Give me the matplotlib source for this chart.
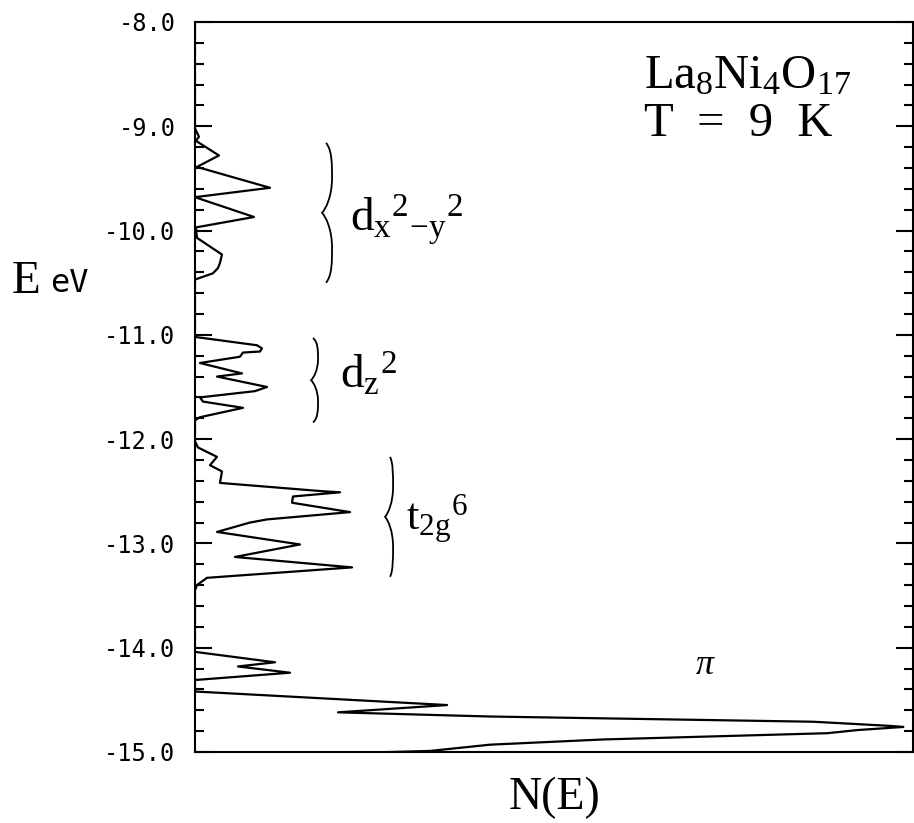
import matplotlib
matplotlib.use("Agg")
import matplotlib.pyplot as plt
from matplotlib.path import Path
from matplotlib.patches import PathPatch
import numpy as np

# density of states (N in arbitrary units, E in eV)
energy = [-8.00, -9.02, -9.10, -9.14, -9.28, -9.39, -9.59, -9.68, -9.87, -9.97,
          -10.07, -10.23, -10.31, -10.36, -10.41, -10.47,
          -11.02, -11.10, -11.13, -11.16, -11.17, -11.21, -11.27, -11.37, -11.40,
          -11.50, -11.54, -11.60, -11.64, -11.70, -11.79, -11.82,
          -12.02, -12.08, -12.17, -12.25, -12.31, -12.42, -12.50, -12.51, -12.55,
          -12.61, -12.70, -12.77, -12.80, -12.89, -13.01, -13.13, -13.23, -13.33,
          -13.40, -13.45,
          -14.04, -14.14, -14.18, -14.24, -14.31, -14.42, -14.55, -14.62, -14.66,
          -14.71, -14.75, -14.76, -14.79, -14.82, -14.88, -14.93, -14.99, -15.05]
dos = [0, 0, 4, 1, 24, 2, 75, 0, 59, 1,
       2, 27, 25, 23, 18, 0,
       0, 62, 67, 65, 48, 45, 5, 47, 22,
       72, 60, 5, 8, 48, 5, 0,
       0, 3, 22, 15, 27, 25, 128, 145, 98,
       97, 155, 72, 55, 22, 105, 40, 157, 12,
       2, 0,
       0, 80, 43, 95, 0, 0, 252, 143, 295,
       618, 695, 708, 662, 632, 408, 295, 235, 0]

yticks = [-8, -9, -10, -11, -12, -13, -14, -15]
ytick_labels = ["-8.0", "-9.0", "-10.0", "-11.0", "-12.0", "-13.0", "-14.0", "-15.0"]

# band groups: (top E, bottom E, label)
groups = [(-9.16, -10.50, r"$\mathrm{d_x{}^2{}_{-y}{}^2}$"),
          (-11.03, -11.84, r"$\mathrm{d_z{}^2}$"),
          (-12.17, -13.32, r"$\mathrm{t_{2g}{}^6}$")]

plt.rcParams["mathtext.fontset"] = "custom"
plt.rcParams["mathtext.rm"] = "Liberation Serif"
plt.rcParams["mathtext.it"] = "Liberation Serif:italic"

fig = plt.figure(figsize=(9.14, 8.23), dpi=100)
ax = fig.add_axes([0.2133, 0.0863, 0.786, 0.887])

ax.plot(dos, energy, color="black", lw=1.6)
ax.set_xlim(0, 718)
ax.set_ylim(-15, -8)

for s in ax.spines.values():
    s.set_linewidth(1.5)

ax.set_xticks([])
ax.set_yticks(yticks)
ax.set_yticklabels(ytick_labels, fontfamily="DejaVu Sans Mono", fontsize=17)
ax.set_yticks(np.arange(-15, -8, 0.2), minor=True)
ax.tick_params(axis="y", which="major", direction="in", length=12, width=1.5,
               pad=14, right=True)
ax.tick_params(axis="y", which="minor", direction="in", length=6.5, width=1.5,
               right=True)


def brace(x_end, x_stem, x_cusp, top, bottom):
    h = top - bottom
    y = lambda f: top - f * h
    verts = [(x_end, y(0)),
             (x_stem, y(0.05)), (x_stem, y(0.15)), (x_stem, y(0.25)),
             (x_stem, y(0.38)), (x_cusp + 0.4 * (x_stem - x_cusp), y(0.47)), (x_cusp, y(0.5)),
             (x_cusp + 0.4 * (x_stem - x_cusp), y(0.53)), (x_stem, y(0.62)), (x_stem, y(0.75)),
             (x_stem, y(0.85)), (x_stem, y(0.95)), (x_end, y(1.0))]
    codes = [Path.MOVETO] + [Path.CURVE4] * 12
    ax.add_patch(PathPatch(Path(verts, codes), fill=False, lw=1.3, color="black"))


brace(131, 137, 127, groups[0][0], groups[0][1])
brace(118, 123, 116, groups[1][0], groups[1][1])
brace(195, 198, 190, groups[2][0], groups[2][1])

ax.text(155, -10.01, groups[0][2], fontsize=34, ha="left", va="baseline")
ax.text(145, -11.51, groups[1][2], fontsize=34, ha="left", va="baseline")
ax.text(211, -12.87, groups[2][2], fontsize=32, ha="left", va="baseline")

ax.text(552, -8.64, r"$\mathrm{La_8Ni_4O_{17}}$", fontsize=35, ha="center", va="baseline")
ax.text(543, -9.09, "T  =  9  K", fontsize=35, ha="center", va="baseline",
        fontfamily="Liberation Serif")
ax.text(510, -14.16, r"$\pi$", fontsize=26, ha="center", va="center")

ax.set_xlabel("N(E)", fontfamily="Liberation Serif", fontsize=33, labelpad=18)

fig.text(12 / 914, 1 - 293 / 823, "E", fontfamily="Liberation Serif", fontsize=34,
         ha="left", va="baseline")
fig.text(50 / 914, 1 - 292 / 823, "eV", fontfamily="DejaVu Sans Mono", fontsize=23,
         ha="left", va="baseline")

fig.savefig("out.png", dpi=100)
